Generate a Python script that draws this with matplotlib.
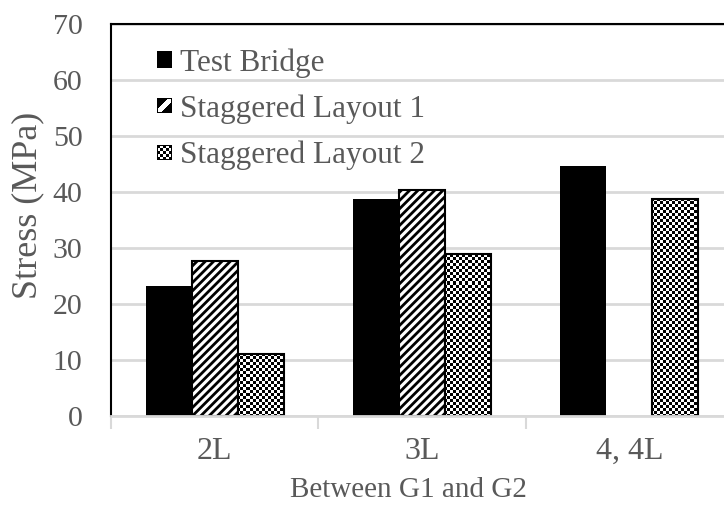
import numpy as np
import matplotlib
matplotlib.use("Agg")
import matplotlib.pyplot as plt
from matplotlib.patches import Patch

categories = ["2L", "3L", "4, 4L"]
series_names = ["Test Bridge", "Staggered Layout 1", "Staggered Layout 2"]
test_bridge = [23.3, 38.8, 44.6]
staggered_1 = [27.7, 40.4, np.nan]
staggered_2 = [11.1, 29.0, 38.7]
y_ticks = [0, 10, 20, 30, 40, 50, 60, 70]
x_title = "Between G1 and G2"
y_title = "Stress (MPa)"

TXT = "#595959"
GRID = "#D9D9D9"

plt.rcParams["font.family"] = ["Liberation Serif", "DejaVu Serif"]
plt.rcParams["hatch.linewidth"] = 2.0

W, H = 724, 512
fig = plt.figure(figsize=(W / 100, H / 100), dpi=100)
ax_l, ax_r, ax_t, ax_b = 111, 733, 24, 416
ax = fig.add_axes([ax_l / W, 1 - ax_b / H, (ax_r - ax_l) / W, (ax_b - ax_t) / H])

x = np.arange(len(categories))
bw = 0.222
b1 = ax.bar(x - bw, test_bridge, bw, color="black", linewidth=0, zorder=3)
b2 = ax.bar(x, staggered_1, bw, facecolor="white", edgecolor="black",
            hatch="////", linewidth=1.5, zorder=3)
b3 = ax.bar(x + bw, staggered_2, bw, facecolor="none", edgecolor="black",
            linewidth=1.5, zorder=4)

# checkerboard texture for Staggered Layout 2 bars
pw, ph = ax_r - ax_l, ax_b - ax_t
cell = 3
nx, ny = pw // cell + 1, ph // cell + 1
checker = (np.add.outer(np.arange(ny), np.arange(nx)) % 2).astype(float)
for bar in b3:
    if not np.isfinite(bar.get_height()):
        continue
    im = ax.imshow(checker, cmap="gray", vmin=0, vmax=1, interpolation="nearest",
                   extent=(0, nx * cell / pw, 1 - ny * cell / ph, 1),
                   transform=ax.transAxes, aspect="auto", zorder=3.5)
    im.set_clip_path(bar)

ax.set_xlim(-0.5, len(categories) - 0.5)
ax.set_ylim(0, 70)
ax.set_yticks(y_ticks)
ax.set_yticklabels([str(v) for v in y_ticks])
ax.yaxis.grid(True, color=GRID, linewidth=2, zorder=0)
ax.set_axisbelow(True)

ax.set_xticks(x)
ax.set_xticklabels(categories)
ax.set_xticks(np.arange(len(categories) + 1) - 0.5, minor=True)
ax.tick_params(axis="x", which="major", length=0, pad=15, labelsize=23, labelcolor=TXT)
ax.tick_params(axis="x", which="minor", length=9, width=1.5, color=GRID, direction="out")
ax.tick_params(axis="y", length=0, pad=20.5, labelsize=21.5, labelcolor=TXT)

for s in ["left", "top", "right"]:
    ax.spines[s].set_color("black")
    ax.spines[s].set_linewidth(1.5)
ax.spines["bottom"].set_color(GRID)
ax.spines["bottom"].set_linewidth(2)
ax.spines["bottom"].set_zorder(5)

fig.text(28 / W, 1 - 205 / H, y_title, rotation=90, ha="center", va="center",
         fontsize=26, color=TXT)
fig.text(408 / W, 1 - 490 / H, x_title, ha="center", va="center",
         fontsize=21, color=TXT)

handles = [
    Patch(facecolor="black", edgecolor="black", linewidth=0),
    Patch(facecolor="white", edgecolor="none", linewidth=0),
    Patch(facecolor="white", edgecolor="none", linewidth=0),
]
LFS = 22.5
leg = ax.legend(handles, series_names, loc="upper left",
                bbox_to_anchor=(157 / W, 1 - 48 / H), bbox_transform=fig.transFigure,
                frameon=False, fontsize=LFS, handlelength=0.48, handleheight=0.48,
                handletextpad=0.25, labelspacing=0.54, borderpad=0, borderaxespad=0)
for t in leg.get_texts():
    t.set_color(TXT)

# small texture swatches for the patterned legend keys
fig.canvas.draw()
lh = leg.legend_handles
n = 15
rr, cc = np.mgrid[0:n, 0:n]
border = (rr == 0) | (cc == 0) | (rr == n - 1) | (cc == n - 1)
stripe = np.where(np.abs(rr + cc - (n - 1)) <= 3, 1.0, 0.0)
stripe[border] = 0.0
chk = (((rr // 3) + (cc // 3)) % 2).astype(float)
chk[border] = 0.0
for h_, sw in ((lh[1], stripe), (lh[2], chk)):
    bb = h_.get_window_extent()
    cx, cy = (bb.x0 + bb.x1) / 2, (bb.y0 + bb.y1) / 2
    rgb = np.dstack([sw, sw, sw])
    fig.figimage(rgb, xo=int(round(cx - n / 2)), yo=int(round(cy - n / 2)),
                 origin="upper", zorder=10)

fig.savefig("out.png", dpi=100)
